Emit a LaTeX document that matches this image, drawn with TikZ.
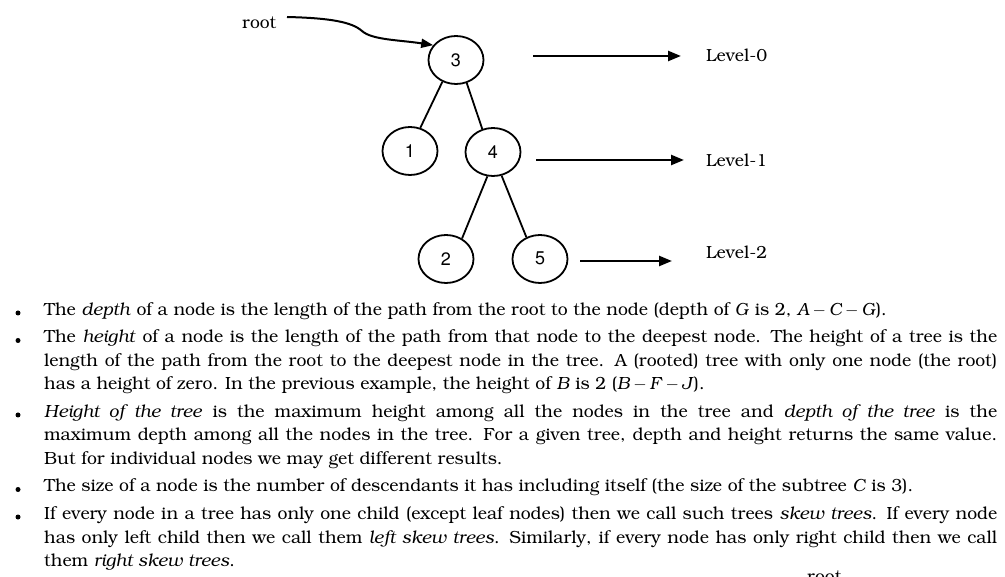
\documentclass[tikz,border=0pt]{standalone}
\usepackage[T1]{fontenc}
\usepackage{bookman}
\usetikzlibrary{shapes.geometric,arrows.meta}
\newcommand{\mv}[1]{\textit{#1}}
\newcommand{\msep}{\,$-$\,}
\tikzset{
  tnode/.style={ellipse, draw, line width=1.8pt, minimum width=55pt, minimum height=48pt, inner sep=0pt,
    font=\fontfamily{phv}\fontsize{18}{18}\selectfont},
  tedge/.style={line width=1.8pt},
  lvarrow/.style={line width=2.4pt, -{Triangle[length=13pt,width=10pt]}},
  rootarrow/.style={line width=2pt, -{Triangle[length=12pt,width=9pt]}},
  lbl/.style={font=\fontsize{17.5}{17.5}\selectfont, inner sep=0pt},
  txt/.style={anchor=base west, inner sep=0pt, font=\fontsize{17.6}{20}\selectfont},
  bul/.style={circle, fill, inner sep=0pt, minimum size=5pt},
}
\begin{document}
\begin{tikzpicture}[x=1pt,y=-1pt]
\fill[white] (0,0) rectangle (1005,577);
\useasboundingbox (0,0) rectangle (1005,577);

% tree
\node[tnode] (n3) at (456,60) {3};
\node[tnode] (n1) at (410,151) {1};
\node[tnode] (n4) at (493,152) {4};
\node[tnode] (n2) at (446,259) {2};
\node[tnode] (n5) at (540,259) {5};
\draw[tedge] (n3.-122) -- (n1.66);
\draw[tedge] (n3.-65) -- (n4.115);
\draw[tedge] (n4.-103) -- (n2.52);
\draw[tedge] (n4.-70) -- (n5.122);

% root pointer
\node[lbl, anchor=west] (root) at (242,23) {root};
\coordinate (rs) at (287,17);
\draw[rootarrow] (rs) .. controls (330,18) and (352,22) .. (362,31)
   .. controls (372,40) and (400,40) .. (n3.147);

% level arrows
\node[lbl, anchor=west] (lv0) at (706,56) {Level-0};
\node[lbl, anchor=west] (lv1) at (706,160) {Level-1};
\node[lbl, anchor=west] (lv2) at (706,252) {Level-2};
\coordinate (a0s) at (533,56);  \coordinate (a0e) at (681,56);
\coordinate (a1s) at (536,160); \coordinate (a1e) at (684,160);
\coordinate (a2s) at (580,261); \coordinate (a2e) at (672,261);
\draw[lvarrow] (a0s) -- (a0e);
\draw[lvarrow] (a1s) -- (a1e);
\draw[lvarrow] (a2s) -- (a2e);

% bullets
\node[bul] (b1) at (18,313) {};
\node[bul] (b2) at (18,340.5) {};
\node[bul] (b3) at (18,415) {};
\node[bul] (b4) at (18,489.5) {};
\node[bul] (b5) at (18,517) {};

% text lines
\node[txt] (t1) at (44,315.5) {The \textit{depth} of a node is the length of the path from the root to the node (depth of \mv{G} is 2, \mv{A}\msep\mv{C}\msep\mv{G}).};
\node[txt] (t2) at (44,343) {\makebox[953pt][s]{The \textit{height} of a node is the length of the path from that node to the deepest node. The height of a tree is the}};
\node[txt] (t3) at (44,366.5) {\makebox[953pt][s]{length of the path from the root to the deepest node in the tree. A (rooted) tree with only one node (the root)}};
\node[txt] (t4) at (44,390) {has a height of zero. In the previous example, the height of \mv{B} is 2 (\mv{B}\msep\mv{F}\msep\mv{J}).};
\node[txt] (t5) at (44,417.5) {\makebox[953pt][s]{\textit{Height of the tree} is the maximum height among all the nodes in the tree and \textit{depth of the tree} is the}};
\node[txt] (t6) at (44,441) {\makebox[953pt][s]{maximum depth among all the nodes in the tree. For a given tree, depth and height returns the same value.}};
\node[txt] (t7) at (44,464.5) {But for individual nodes we may get different results.};
\node[txt] (t8) at (44,492) {The size of a node is the number of descendants it has including itself (the size of the subtree \mv{C} is 3).};
\node[txt] (t9) at (44,519.5) {\makebox[953pt][s]{If every node in a tree has only one child (except leaf nodes) then we call such trees \textit{skew trees}. If every node}};
\node[txt] (t10) at (44,543) {\makebox[953pt][s]{has only left child then we call them \textit{left skew trees}. Similarly, if every node has only right child then we call}};
\node[txt] (t11) at (44,566.5) {them \textit{right skew trees}.};

% partial label at bottom edge
\begin{scope}
\clip (0,0) rectangle (1005,577);
\node[txt] (root2) at (807,582) {root};
\end{scope}
\end{tikzpicture}
\end{document}
